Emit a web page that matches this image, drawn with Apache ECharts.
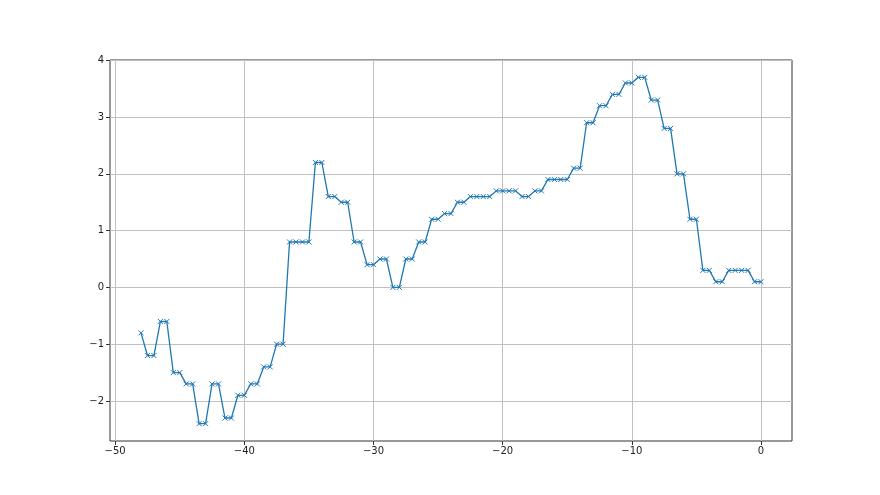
<!DOCTYPE html>
<html>
<head>
<meta charset="utf-8">
<script src="https://cdn.jsdelivr.net/npm/echarts@6/dist/echarts.min.js"></script>
<style>html,body{margin:0;padding:0;background:#fff}#c{width:880px;height:495px}</style>
</head>
<body>
<div id="c"></div>
<script>
const xValues = [-48,-47.5,-47,-46.5,-46,-45.5,-45,-44.5,-44,-43.5,-43,-42.5,-42,-41.5,-41,-40.5,-40,-39.5,-39,-38.5,-38,-37.5,-37,-36.5,-36,-35.5,-35,-34.5,-34,-33.5,-33,-32.5,-32,-31.5,-31,-30.5,-30,-29.5,-29,-28.5,-28,-27.5,-27,-26.5,-26,-25.5,-25,-24.5,-24,-23.5,-23,-22.5,-22,-21.5,-21,-20.5,-20,-19.5,-19,-18.5,-18,-17.5,-17,-16.5,-16,-15.5,-15,-14.5,-14,-13.5,-13,-12.5,-12,-11.5,-11,-10.5,-10,-9.5,-9,-8.5,-8,-7.5,-7,-6.5,-6,-5.5,-5,-4.5,-4,-3.5,-3,-2.5,-2,-1.5,-1,-0.5,0];
const yValues = [-0.8,-1.2,-1.2,-0.6,-0.6,-1.5,-1.5,-1.7,-1.7,-2.4,-2.4,-1.7,-1.7,-2.3,-2.3,-1.9,-1.9,-1.7,-1.7,-1.4,-1.4,-1.0,-1.0,0.8,0.8,0.8,0.8,2.2,2.2,1.6,1.6,1.5,1.5,0.8,0.8,0.4,0.4,0.5,0.5,0.0,0.0,0.5,0.5,0.8,0.8,1.2,1.2,1.3,1.3,1.5,1.5,1.6,1.6,1.6,1.6,1.7,1.7,1.7,1.7,1.6,1.6,1.7,1.7,1.9,1.9,1.9,1.9,2.1,2.1,2.9,2.9,3.2,3.2,3.4,3.4,3.6,3.6,3.7,3.7,3.3,3.3,2.8,2.8,2.0,2.0,1.2,1.2,0.3,0.3,0.1,0.1,0.3,0.3,0.3,0.3,0.1,0.1];
const xTicks = [-50,-40,-30,-20,-10,0];
const yTicks = [-2,-1,0,1,2,3,4];

const fmt = v => String(v).replace('-', '\u2212');
const data = xValues.map((x, i) => [x, yValues[i]]);

const chart = echarts.init(document.getElementById('c'), null, {renderer: 'canvas'});
chart.setOption({
  animation: false,
  backgroundColor: '#fff',
  grid: {left: 110, right: 88, top: 60, bottom: 54, show: true, borderColor: '#333', borderWidth: 1, backgroundColor: 'transparent'},
  xAxis: {
    type: 'value', min: -50.4, max: 2.4, position: 'bottom',
    axisLine: {show: false, onZero: false},
    axisTick: {show: true, customValues: xTicks, length: 4, lineStyle: {color: '#333'}},
    axisLabel: {customValues: xTicks, formatter: fmt, color: '#222', fontSize: 10, fontFamily: 'DejaVu Sans', margin: 5},
    splitLine: {show: true, customValues: xTicks, lineStyle: {color: '#c0c0c0', width: 1}}
  },
  yAxis: {
    type: 'value', min: -2.705, max: 4.005, position: 'left',
    axisLine: {show: false, onZero: false},
    axisTick: {show: true, customValues: yTicks, length: 4, lineStyle: {color: '#333'}},
    axisLabel: {customValues: yTicks, formatter: fmt, color: '#222', fontSize: 10, fontFamily: 'DejaVu Sans', margin: 6},
    splitLine: {show: true, customValues: yTicks, lineStyle: {color: '#c0c0c0', width: 1}}
  },
  series: [{
    type: 'line',
    data: data,
    symbol: 'path://M0,0L10,10M10,0L0,10',
    symbolSize: 5,
    showAllSymbol: true,
    lineStyle: {color: '#1f77b4', width: 1.3},
    itemStyle: {color: '#1f77b4', borderColor: '#1f77b4', borderWidth: 1}
  }]
});
</script>
</body>
</html>
